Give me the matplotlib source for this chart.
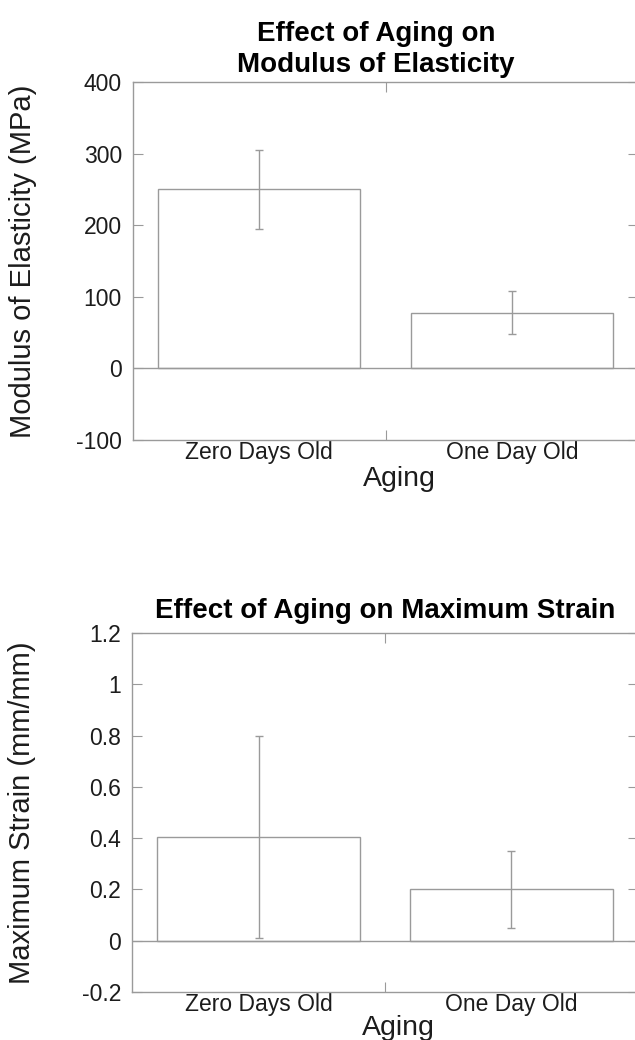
import matplotlib
matplotlib.use("Agg")
import matplotlib.pyplot as plt

plt.rcParams['font.family'] = ['Liberation Sans', 'DejaVu Sans']

categories = ["Zero Days Old", "One Day Old"]
modulus_mean = [250, 78]
modulus_err = [55, 30]
strain_mean = [0.405, 0.200]
strain_err = [0.395, 0.150]

mod_ticks = [-100, 0, 100, 200, 300, 400]
mod_ticklabels = ["-100", "0", "100", "200", "300", "400"]
strain_ticks = [-0.2, 0, 0.2, 0.4, 0.6, 0.8, 1.0, 1.2]
strain_ticklabels = ["-0.2", "0", "0.2", "0.4", "0.6", "0.8", "1", "1.2"]

W, H = 635, 1040
fig = plt.figure(figsize=(W / 100, H / 100), dpi=100)

line_col = "#9a9a9a"
text_col = "#1c1c1c"


def make_panel(rect, means, errs, yticks, yticklabels, ylim, title, title_pad,
               title_x, ylabel, xlabel_y):
    ax = fig.add_axes(rect)
    x = [1, 2]
    ax.bar(x, means, width=0.8, color="white", edgecolor=line_col,
           linewidth=1.0, zorder=2)
    ax.errorbar(x, means, yerr=errs, fmt="none", ecolor=line_col,
                elinewidth=1.0, capsize=3, capthick=1.0, zorder=3)
    ax.axhline(0, color=line_col, linewidth=1.0, zorder=2.5)
    ax.set_xlim(0.5, 2.5)
    ax.set_ylim(*ylim)
    ax.set_yticks(yticks)
    ax.set_yticklabels(yticklabels)
    ax.set_xticks([1.5])
    ax.set_xticklabels([""])
    ax.set_xticks(x, minor=True)
    ax.set_xticklabels(categories, minor=True)
    ax.tick_params(axis="x", which="minor", length=0, pad=1,
                   labelsize=16.5, labelcolor=text_col)
    ax.tick_params(axis="x", which="major", direction="in", length=7,
                   color=line_col, top=True)
    ax.tick_params(axis="y", direction="in", length=7, color=line_col,
                   right=True, pad=8, labelsize=16.5, labelcolor=text_col)
    for s in ax.spines.values():
        s.set_color(line_col)
        s.set_linewidth(1.0)
    ax.set_title(title, fontsize=20, fontweight="bold", color="black",
                 pad=title_pad, x=title_x, linespacing=1.25)
    ax.set_ylabel(ylabel, fontsize=21, color=text_col, va="center")
    ax.yaxis.set_label_coords(-0.218, 0.5)
    ax.set_xlabel("Aging", fontsize=20.5, color=text_col)
    ax.xaxis.set_label_coords(0.527, xlabel_y)
    return ax


ax1 = make_panel([133 / W, 1 - 440 / H, 505 / W, 358 / H],
                 modulus_mean, modulus_err, mod_ticks, mod_ticklabels,
                 (-100, 400), "Effect of Aging on\nModulus of Elasticity", 7,
                 0.481, "Modulus of Elasticity (MPa)", -0.074)

ax2 = make_panel([132 / W, 1 - 992 / H, 506 / W, 359 / H],
                 strain_mean, strain_err, strain_ticks, strain_ticklabels,
                 (-0.2, 1.2), "Effect of Aging on Maximum Strain", 11,
                 0.5, "Maximum Strain (mm/mm)", -0.064)

fig.savefig("out.png", dpi=100, facecolor="white")
